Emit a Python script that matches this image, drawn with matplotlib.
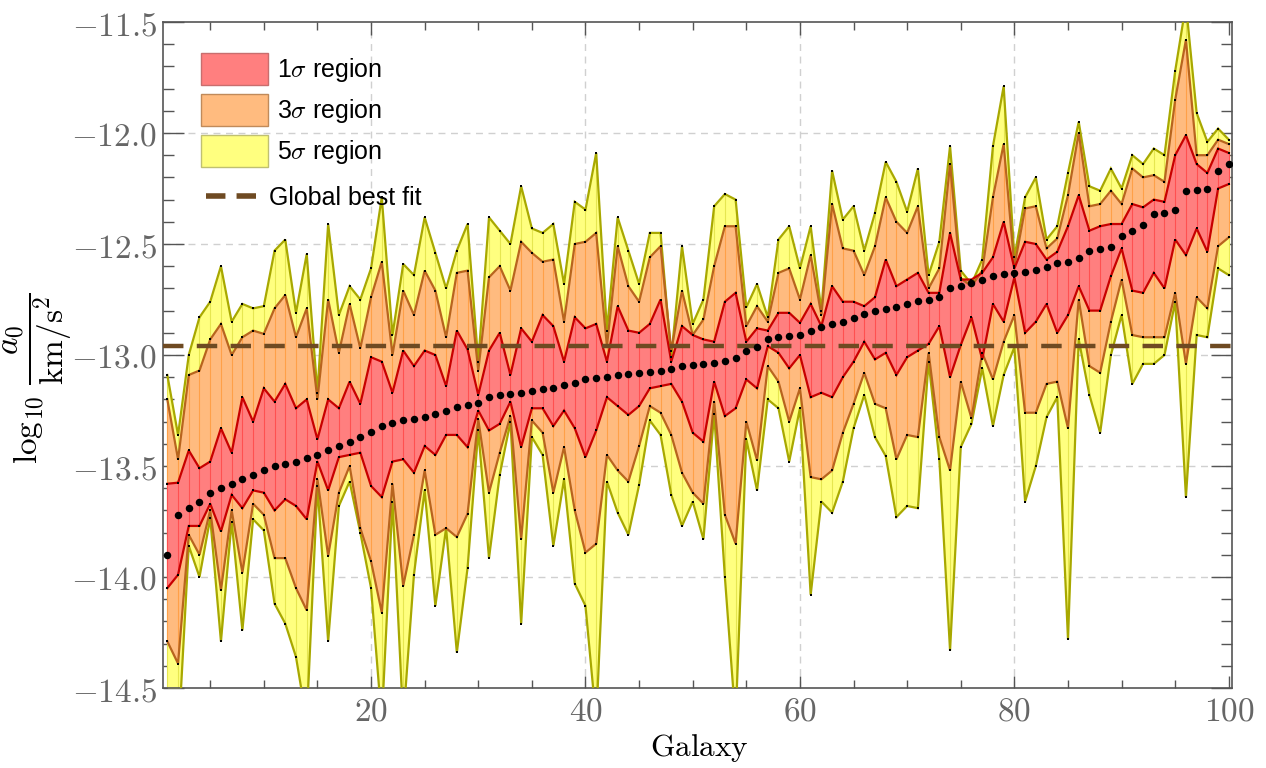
import numpy as np
import matplotlib
matplotlib.use("Agg")
import matplotlib.pyplot as plt
from matplotlib.patches import Patch
from matplotlib.lines import Line2D
from matplotlib.ticker import MultipleLocator, FuncFormatter

plt.rcParams['mathtext.fontset'] = 'cm'

galaxy = np.arange(1, 101)

best_fit = [
    -13.90, -13.72, -13.69, -13.66, -13.62, -13.60, -13.58, -13.56, -13.54, -13.52,
    -13.50, -13.49, -13.48, -13.465, -13.45, -13.43, -13.41, -13.39, -13.37, -13.345,
    -13.32, -13.305, -13.295, -13.287, -13.28, -13.267, -13.25, -13.236, -13.227, -13.217,
    -13.19, -13.182, -13.174, -13.169, -13.163, -13.153, -13.15, -13.136, -13.124, -13.11,
    -13.105, -13.097, -13.09, -13.085, -13.08, -13.076, -13.07, -13.062, -13.05, -13.045,
    -13.04, -13.035, -13.025, -13.015, -12.98, -12.965, -12.93, -12.92, -12.915, -12.91,
    -12.89, -12.875, -12.86, -12.85, -12.835, -12.815, -12.80, -12.795, -12.785, -12.77,
    -12.758, -12.752, -12.738, -12.70, -12.69, -12.675, -12.66, -12.645, -12.635, -12.63,
    -12.625, -12.615, -12.605, -12.585, -12.58, -12.565, -12.53, -12.523, -12.515, -12.465,
    -12.44, -12.415, -12.365, -12.362, -12.345, -12.262, -12.255, -12.25, -12.17, -12.14,
]

upper_5sigma = [
    -13.09, -13.36, -13.00, -12.83, -12.76, -12.60, -12.85, -12.77, -12.79, -12.78,
    -12.53, -12.48, -12.81, -12.545, -13.17, -12.41, -12.82, -12.69, -12.75, -12.61,
    -12.29, -12.91, -12.59, -12.64, -12.38, -12.54, -12.70, -12.53, -12.41, -13.03,
    -12.38, -12.44, -12.50, -12.24, -12.43, -12.45, -12.41, -12.68, -12.31, -12.345,
    -12.09, -12.89, -12.38, -12.53, -12.68, -12.45, -12.45, -13.01, -12.51, -12.86,
    -12.75, -12.33, -12.275, -12.30, -12.785, -12.68, -12.83, -12.48, -12.42, -12.61,
    -12.42, -12.80, -12.17, -12.39, -12.33, -12.53, -12.36, -12.13, -12.22, -12.355,
    -12.16, -12.64, -12.49, -12.06, -12.62, -12.68, -12.57, -12.06, -11.79, -12.56,
    -12.29, -12.20, -12.48, -12.42, -12.18, -11.95, -12.24, -12.26, -12.16, -12.25,
    -12.10, -12.14, -12.07, -12.10, -11.72, -11.42, -11.91, -12.04, -11.98, -12.03,
]

upper_3sigma = [
    -13.20, -13.47, -13.09, -13.07, -12.93, -12.86, -13.00, -12.92, -12.89, -12.905,
    -12.79, -12.73, -12.92, -12.79, -13.20, -12.75, -12.99, -12.77, -12.97, -12.74,
    -12.58, -13.00, -12.71, -12.82, -12.62, -12.71, -12.92, -12.63, -12.62, -13.07,
    -12.65, -12.60, -12.71, -12.49, -12.54, -12.58, -12.57, -12.85, -12.50, -12.49,
    -12.45, -12.96, -12.51, -12.69, -12.76, -12.56, -12.51, -12.98, -12.71, -12.91,
    -12.84, -12.60, -12.42, -12.42, -12.87, -12.78, -12.85, -12.63, -12.61, -12.75,
    -12.55, -12.82, -12.32, -12.52, -12.53, -12.64, -12.51, -12.29, -12.40, -12.45,
    -12.33, -12.70, -12.61, -12.14, -12.655, -12.69, -12.62, -12.29, -12.05, -12.60,
    -12.34, -12.33, -12.52, -12.475, -12.28, -12.00, -12.33, -12.32, -12.26, -12.32,
    -12.16, -12.20, -12.19, -12.22, -11.85, -11.58, -12.10, -12.10, -12.03, -12.05,
]

upper_1sigma = [
    -13.58, -13.575, -13.43, -13.51, -13.48, -13.33, -13.44, -13.19, -13.30, -13.15,
    -13.21, -13.13, -13.24, -13.20, -13.38, -13.20, -13.24, -13.12, -13.22, -13.01,
    -13.03, -13.17, -12.98, -13.05, -12.98, -13.00, -13.14, -12.89, -12.975, -13.18,
    -12.98, -12.90, -13.09, -12.88, -12.94, -12.82, -12.87, -13.03, -12.83, -12.88,
    -12.86, -13.03, -12.78, -12.89, -12.90, -12.86, -12.75, -13.03, -12.87, -12.91,
    -12.93, -12.94, -12.76, -12.72, -12.94, -12.88, -12.89, -12.81, -12.81, -12.855,
    -12.77, -12.87, -12.69, -12.76, -12.76, -12.78, -12.74, -12.57, -12.69, -12.66,
    -12.63, -12.72, -12.72, -12.45, -12.66, -12.66, -12.63, -12.56, -12.40, -12.61,
    -12.49, -12.50, -12.57, -12.535, -12.42, -12.28, -12.44, -12.42, -12.41, -12.41,
    -12.32, -12.335, -12.30, -12.31, -12.10, -12.01, -12.14, -12.18, -12.07, -12.09,
]

lower_1sigma = [
    -14.05, -13.99, -13.77, -13.77, -13.67, -13.795, -13.63, -13.69, -13.61, -13.62,
    -13.70, -13.65, -13.68, -13.74, -13.48, -13.61, -13.46, -13.45, -13.44, -13.59,
    -13.64, -13.48, -13.47, -13.53, -13.41, -13.45, -13.36, -13.36, -13.415, -13.25,
    -13.34, -13.31, -13.21, -13.415, -13.24, -13.24, -13.32, -13.25, -13.33, -13.46,
    -13.34, -13.19, -13.23, -13.27, -13.23, -13.15, -13.14, -13.13, -13.21, -13.35,
    -13.39, -13.12, -13.275, -13.24, -13.11, -13.15, -12.96, -12.99, -13.06, -13.00,
    -13.19, -13.17, -13.19, -13.10, -13.03, -12.94, -13.02, -12.99, -13.09, -13.01,
    -12.98, -12.95, -12.87, -13.10, -12.955, -12.83, -13.02, -12.77, -12.85, -12.65,
    -12.90, -12.85, -12.77, -12.90, -12.82, -12.69, -12.80, -12.80, -12.645, -12.52,
    -12.71, -12.72, -12.63, -12.70, -12.48, -12.55, -12.43, -12.535, -12.25, -12.23,
]

lower_3sigma = [
    -14.29, -14.39, -13.81, -13.90, -13.70, -14.06, -13.70, -13.98, -13.67, -13.72,
    -13.915, -13.915, -14.05, -14.15, -13.56, -13.905, -13.62, -13.50, -13.78, -13.93,
    -14.16, -13.58, -14.04, -13.81, -13.52, -13.81, -13.78, -13.82, -13.715, -13.29,
    -13.62, -13.44, -13.275, -13.83, -13.295, -13.35, -13.62, -13.415, -13.70, -13.89,
    -13.85, -13.45, -13.52, -13.57, -13.41, -13.23, -13.26, -13.36, -13.53, -13.62,
    -13.67, -13.21, -13.72, -13.85, -13.30, -13.475, -13.05, -13.12, -13.30, -13.15,
    -13.55, -13.56, -13.52, -13.35, -13.22, -13.08, -13.22, -13.24, -13.47, -13.36,
    -13.37, -12.99, -13.37, -13.52, -13.12, -13.285, -12.99, -13.11, -12.94, -12.82,
    -13.26, -13.26, -13.13, -13.12, -13.33, -12.75, -13.05, -13.08, -12.85, -12.66,
    -12.91, -12.92, -12.92, -12.92, -12.72, -13.04, -12.74, -12.79, -12.51, -12.47,
]

lower_5sigma = [
    -14.65, -14.75, -13.86, -14.00, -13.735, -14.29, -13.75, -14.24, -13.74, -13.79,
    -14.12, -14.21, -14.36, -14.65, -13.59, -14.29, -13.68, -13.57, -13.80, -14.05,
    -14.65, -13.66, -14.65, -13.99, -13.61, -14.13, -13.78, -14.34, -13.96, -13.34,
    -13.915, -13.54, -13.30, -14.21, -13.37, -13.45, -13.86, -13.56, -14.03, -14.13,
    -14.65, -13.57, -13.71, -13.81, -13.585, -13.295, -13.36, -13.63, -13.77, -13.66,
    -13.83, -13.265, -14.00, -14.65, -13.38, -13.61, -13.20, -13.24, -13.48, -13.24,
    -14.08, -13.66, -13.71, -13.57, -13.33, -13.18, -13.37, -13.455, -13.73, -13.68,
    -13.69, -13.03, -13.47, -14.33, -13.415, -13.31, -13.06, -13.32, -13.09, -12.965,
    -13.66, -13.50, -13.28, -13.19, -14.28, -12.93, -13.18, -13.35, -13.00, -12.82,
    -13.13, -13.04, -13.04, -13.00, -12.76, -13.64, -12.91, -12.92, -12.61, -12.64,
]

global_best_fit = -12.96

x_major_ticks = [20, 40, 60, 80, 100]
y_major_ticks = [-14.5, -14.0, -13.5, -13.0, -12.5, -12.0, -11.5]
region_labels = [r"1$\sigma$ region", r"3$\sigma$ region", r"5$\sigma$ region"]
line_label = "Global best fit"

# styles
fill_cols = {"1": "#FF7F7F", "3": "#FFBB7F", "5": "#FFFF7F"}
mesh_cols = {"1": "#FF5050", "3": "#FFA048", "5": "#E6E650"}
edge_cols = {"1": "#C80000", "3": "#B8641E", "5": "#A8A800"}
legend_edge = {"1": "#C86E6E", "3": "#C08A5A", "5": "#C0C070"}
dash_col = "#6E4A22"

fig = plt.figure(figsize=(12.66, 7.68), dpi=100)
ax = fig.add_axes([162.5 / 1266, 1 - 688 / 768, (1231.5 - 162.5) / 1266, (688 - 22) / 768])

x = galaxy
bands = [("5", lower_5sigma, upper_5sigma), ("3", lower_3sigma, upper_3sigma), ("1", lower_1sigma, upper_1sigma)]
z = 2
for key, lo, hi in bands:
    ax.fill_between(x, lo, hi, color=fill_cols[key], lw=0, zorder=z)
    ax.vlines(x, lo, hi, color=mesh_cols[key], lw=0.8, zorder=z + 0.1)
    z += 1
for key, lo, hi in bands:
    ax.plot(x, hi, color=edge_cols[key], lw=1.6, zorder=6, solid_joinstyle='miter')
    ax.plot(x, lo, color=edge_cols[key], lw=1.6, zorder=6, solid_joinstyle='miter')
    ax.plot(x, hi, 's', color='black', ms=1.6, mew=0, zorder=7)
    ax.plot(x, lo, 's', color='black', ms=1.6, mew=0, zorder=7)

ax.axhline(global_best_fit, color=dash_col, lw=3.2, dashes=(4.6, 3.0), zorder=8)
ax.plot(x, best_fit, 'o', color='black', ms=5.4, mew=0, zorder=9)

ax.set_xlim(0.55, 100.25)
ax.set_ylim(-14.5, -11.5)

ax.set_xticks(x_major_ticks)
ax.xaxis.set_minor_locator(MultipleLocator(5))
ax.set_yticks(y_major_ticks)
ax.yaxis.set_minor_locator(MultipleLocator(0.1))

ax.xaxis.set_major_formatter(FuncFormatter(lambda v, p: r"$%d$" % v))
ax.yaxis.set_major_formatter(FuncFormatter(lambda v, p: r"$%.1f$" % v))

frame_col = "#555555"
for s in ax.spines.values():
    s.set_color(frame_col)
    s.set_linewidth(1.2)
ax.tick_params(axis='both', which='both', direction='in', top=True, right=True,
               color=frame_col, labelcolor="#666666", labelsize=24, width=1.0)
ax.tick_params(axis='y', which='major', length=15)
ax.tick_params(axis='y', which='minor', length=8)
ax.tick_params(axis='x', which='major', length=9)
ax.tick_params(axis='x', which='minor', length=6)
ax.tick_params(axis='y', pad=4)
ax.tick_params(axis='x', pad=5)

for v in [-14.0, -13.5, -13.0, -12.5, -12.0]:
    ax.axhline(v, color="#D0D0D0", lw=1.0, ls=(0, (5, 4)), zorder=1)
for v in [20, 40, 60, 80]:
    ax.axvline(v, color="#D0D0D0", lw=1.0, ls=(0, (5, 4)), zorder=1)

patch_handles = [
    Patch(facecolor=fill_cols["1"], edgecolor=legend_edge["1"], lw=1.0),
    Patch(facecolor=fill_cols["3"], edgecolor=legend_edge["3"], lw=1.0),
    Patch(facecolor=fill_cols["5"], edgecolor=legend_edge["5"], lw=1.0),
]
leg1 = ax.legend(patch_handles, region_labels, loc='center left', bbox_to_anchor=(0.0357, 0.868),
                 frameon=False, handleheight=1.6, handlelength=2.68,
                 handletextpad=0.37, labelspacing=0.36, borderpad=0, borderaxespad=0,
                 prop={'family': 'Liberation Sans', 'size': 18})
leg1.set_zorder(20)
ax.add_artist(leg1)

line_handle = [Line2D([0], [0], color=dash_col, lw=4, dashes=(3.5, 2.0))]
leg2 = ax.legend(line_handle, [line_label], loc='center left', bbox_to_anchor=(0.0404, 0.736),
                 frameon=False, handlelength=2.16, handletextpad=0.36, borderpad=0, borderaxespad=0,
                 prop={'family': 'Liberation Sans', 'size': 18})
leg2.set_zorder(20)

fig.text(38 / 1266, 1 - 378 / 768, r"$\log_{10}\,\dfrac{a_0}{\mathrm{km/s^2}}$",
         rotation=90, ha='center', va='center', fontsize=24)
fig.text(699 / 1266, 1 - 748 / 768, r"$\mathrm{Galaxy}$", ha='center', va='center', fontsize=22.5)

fig.savefig("out.png", dpi=100)
